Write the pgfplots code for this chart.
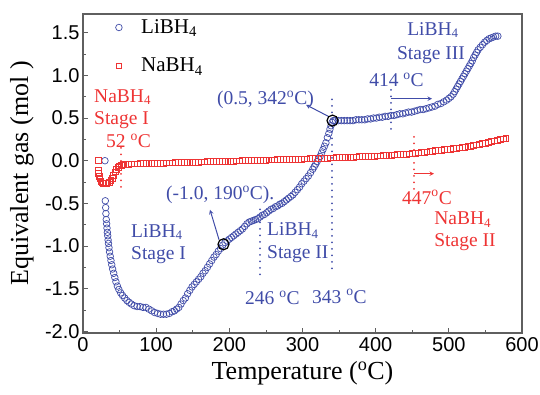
\documentclass[border=0pt]{standalone}
\usepackage{pgfplots}
\pgfplotsset{compat=1.18}
\usepackage{fontspec}
\setmainfont{Liberation Serif}
\newfontfamily\tickfont{Liberation Sans}
\definecolor{bl}{RGB}{64,76,168}
\definecolor{rd}{RGB}{238,52,52}
\definecolor{fr}{RGB}{95,95,95}
\newcommand{\ann}{\fontsize{19.5}{22}\selectfont}
\newcommand{\sub}[1]{\raisebox{-0.25ex}{\fontsize{13}{14}\selectfont #1}}
\begin{document}
\begin{tikzpicture}
\useasboundingbox (0,0) rectangle (540pt,394pt);
\begin{axis}[
  at={(83pt,61pt)}, anchor=south west,
  scale only axis, width=439pt, height=319pt,
  xmin=0, xmax=600, ymin=-2.02, ymax=1.72,
  xtick={0,100,...,600}, minor x tick num=1,
  ytick={-2,-1.5,-1,-0.5,0,0.5,1,1.5}, minor y tick num=1,
  xtick pos=bottom, ytick pos=left,
  tick align=inside,
  major tick length=5pt, minor tick length=3pt,
  axis line style={fr, line width=1.2pt},
  every tick/.style={fr, line width=0.8pt},
  tick label style={font=\tickfont\fontsize{20}{22}\selectfont},
  /pgf/number format/assume math mode=true,
  yticklabel style={/pgf/number format/.cd, fixed, fixed zerofill, precision=1},
  xticklabel style={yshift=-1pt},
  xlabel={Temperature (\textsuperscript{o}C)},
  ylabel={Equivalent gas (mol )},
  xlabel style={font=\fontsize{26}{28}\selectfont, at={([yshift=-40pt]axis description cs:0.5,0)}, anchor=center},
  ylabel style={font=\fontsize{26}{28}\selectfont, at={([xshift=-61pt]axis description cs:0,0.5)}, anchor=center},
  legend style={draw=none, fill=none, at={(axis description cs:0.067,0.995)}, anchor=north west,
    font=\fontsize{21}{24}\selectfont, row sep=19pt,
    /tikz/every odd column/.append style={column sep=17pt}},
  legend cell align=left,
  clip=false,
]
\addplot[only marks, mark=o, mark size=3.3pt, bl, line width=0.7pt] coordinates {
(30,0.00) (30.5,-0.47) (31,-0.55) (31.3,-0.62) (31.8,-0.69) (32.3,-0.74) (32.8,-0.79) (33.3,-0.84)
(33.8,-0.88) (34.3,-0.93) (34.8,-0.97) (35.5,-1.02) (36.3,-1.07) (37.2,-1.12) (38.2,-1.17) (39.3,-1.22)
(40.5,-1.27) (42,-1.32) (43.5,-1.37) (45,-1.42) (47,-1.47) (49,-1.51) (51.5,-1.55) (54,-1.58)
(57,-1.61) (60,-1.64) (63,-1.66) (66,-1.68) (70,-1.70) (74,-1.71) (78,-1.71) (82,-1.72)
(86,-1.72) (90,-1.74) (94,-1.76) (98,-1.78) (102,-1.79) (106,-1.80) (110,-1.80) (114,-1.80)
(118,-1.79) (122,-1.77) (125,-1.76) (128,-1.74) (131,-1.72) (134,-1.68) (137,-1.64) (140,-1.61)
(143,-1.56) (146,-1.52) (149,-1.48) (152,-1.45) (155,-1.42) (158,-1.39) (161,-1.36) (164,-1.32)
(167,-1.29) (170,-1.25) (173,-1.21) (176,-1.17) (179,-1.13) (182,-1.10) (185,-1.06) (188,-1.03)
(191,-0.99) (194,-0.96) (197,-0.94) (200,-0.92) (203,-0.90) (206,-0.88) (209,-0.86) (212,-0.84)
(215,-0.82) (218,-0.80) (221,-0.77) (224,-0.74) (227,-0.72) (230,-0.71) (233,-0.70) (236,-0.69)
(239,-0.68) (242,-0.66) (245,-0.64) (248,-0.63) (251,-0.61) (254,-0.59) (257,-0.57) (260,-0.56)
(263,-0.54) (266,-0.53) (269,-0.51) (272,-0.50) (275,-0.48) (278,-0.46) (281,-0.44) (284,-0.42)
(287,-0.40) (290,-0.37) (293,-0.34) (296,-0.31) (299,-0.27) (302,-0.24) (305,-0.21) (308,-0.18)
(311,-0.14) (314,-0.10) (316,-0.07) (318,-0.04) (320,-0.01) (322,0.02) (324,0.05) (326,0.09)
(328,0.13) (330,0.17) (332,0.21) (334,0.27) (336,0.32) (337.5,0.37) (339,0.41) (340.5,0.45)
(342,0.47) (345,0.47) (349,0.47) (353,0.47) (357,0.47) (361,0.47) (365,0.47) (369,0.47)
(373,0.48) (377,0.48) (381,0.48) (385,0.48) (389,0.49) (393,0.49) (397,0.50) (401,0.50)
(405,0.51) (409,0.51) (413,0.52) (417,0.52) (421,0.53) (425,0.53) (429,0.54) (433,0.55)
(437,0.55) (441,0.56) (445,0.57) (449,0.57) (453,0.58) (457,0.59) (461,0.60) (465,0.60)
(469,0.61) (473,0.62) (477,0.63) (481,0.64) (485,0.66) (489,0.67) (493,0.69) (497,0.71)
(500,0.73) (503,0.75) (506,0.78) (508,0.81) (510,0.84) (512,0.87) (514,0.90) (516,0.93)
(518,0.96) (520,0.99) (522,1.02) (524,1.05) (526,1.08) (528,1.11) (530,1.14) (532,1.17)
(534,1.21) (536,1.24) (538,1.27) (540,1.30) (543,1.33) (546,1.36) (549,1.39) (552,1.41)
(555,1.43) (558,1.44) (561,1.45) (564,1.46) (567,1.46)
};
\addlegendentry{LiBH\textsubscript{4}}
\addplot[only marks, mark=square, mark size=2.9pt, rd, line width=0.7pt] coordinates {
(21,0.00) (21,-0.11) (21.5,-0.15) (22,-0.18) (23,-0.21) (24.5,-0.24) (26,-0.26) (28,-0.27)
(30,-0.27) (32,-0.27) (34,-0.26) (36,-0.25) (38,-0.23) (40,-0.21) (42,-0.17) (44,-0.13)
(46,-0.10) (48,-0.08) (50,-0.06) (52,-0.05) (55,-0.045)
(58,-0.040) (62,-0.039) (66,-0.038) (70,-0.037) (74,-0.036) (78,-0.035) (82,-0.034) (86,-0.033)
(90,-0.032) (94,-0.031) (98,-0.030) (102,-0.029) (106,-0.028) (110,-0.027) (114,-0.026) (118,-0.025)
(122,-0.024) (126,-0.023) (130,-0.022) (134,-0.021) (138,-0.020) (142,-0.019) (146,-0.018) (150,-0.017)
(154,-0.016) (158,-0.015) (162,-0.014) (166,-0.013) (170,-0.012) (174,-0.011) (178,-0.010) (182,-0.009)
(186,-0.008) (190,-0.007) (194,-0.006) (198,-0.005) (202,-0.004) (206,-0.003) (210,-0.002) (214,-0.001)
(218,0.000) (222,0.001) (226,0.002) (230,0.003) (234,0.004) (238,0.005) (242,0.006) (246,0.007)
(250,0.008) (254,0.009) (258,0.010) (262,0.011) (266,0.012) (270,0.013) (274,0.014) (278,0.015)
(282,0.016) (286,0.017) (290,0.018) (294,0.019) (298,0.020) (302,0.021) (306,0.022) (310,0.024)
(314,0.025) (318,0.026) (322,0.028) (326,0.029) (330,0.030) (334,0.032) (338,0.033) (342,0.034)
(346,0.036) (350,0.037) (354,0.039) (358,0.040) (362,0.041) (366,0.043) (370,0.044) (374,0.046)
(378,0.047) (382,0.049) (386,0.050) (390,0.052) (394,0.053) (398,0.055) (402,0.057) (406,0.058)
(410,0.060) (414,0.062) (418,0.064) (422,0.066) (426,0.068) (430,0.070) (434,0.072) (438,0.075)
(442,0.078) (446,0.081) (450,0.085) (454,0.089) (458,0.093) (462,0.097) (466,0.101) (470,0.105)
(474,0.109) (478,0.113) (482,0.117) (486,0.121) (490,0.125) (494,0.129) (498,0.133) (502,0.137)
(506,0.141) (510,0.146) (514,0.151) (518,0.156) (522,0.161) (526,0.166) (530,0.172) (534,0.178)
(538,0.185) (542,0.192) (546,0.200) (550,0.208) (554,0.216) (558,0.224) (562,0.232) (566,0.240)
(570,0.248) (574,0.256) (578,0.262)
};
\addlegendentry{NaBH\textsubscript{4}}
% highlighted points
\addplot[only marks, mark=o, mark size=5.5pt, black, line width=1.2pt, forget plot] coordinates {(192,-0.98) (341,0.47)};
% dotted markers
\addplot[rd, line width=2pt, line cap=round, dash pattern=on 0pt off 6.5pt, forget plot] coordinates {(52,0.15) (52,-0.36)};
\addplot[rd, line width=2pt, line cap=round, dash pattern=on 0pt off 6.5pt, forget plot] coordinates {(452.4,0.28) (452.4,-0.34)};
\addplot[bl, line width=2pt, line cap=round, dash pattern=on 0pt off 6.5pt, forget plot] coordinates {(242,-0.57) (242,-1.37)};
\addplot[bl, line width=2pt, line cap=round, dash pattern=on 0pt off 6.5pt, forget plot] coordinates {(340.3,0.72) (340.3,-1.30)};
\addplot[bl, line width=2pt, line cap=round, dash pattern=on 0pt off 6.5pt, forget plot] coordinates {(421,0.83) (421,0.36)};
% arrows
\draw[bl, line width=1pt, -stealth] (axis cs:185.9,-0.926) -- (axis cs:173.6,-0.575);
\draw[bl, line width=1pt, -stealth] (axis cs:336.2,0.516) -- (axis cs:304.8,0.656);
\draw[bl, line width=1pt, -stealth] (axis cs:421,0.727) -- (axis cs:477,0.727);
\draw[rd, line width=1pt, -stealth] (axis cs:452.4,-0.152) -- (axis cs:479.7,-0.152);
% annotations
\begin{scope}[every node/.style={anchor=west, inner sep=0pt, font=\ann}]
\node[rd] at (axis cs:15,0.75) {NaBH\sub{4}};
\node[rd] at (axis cs:15,0.48) {Stage I};
\node[rd] at (axis cs:31.4,0.235) {52 \textsuperscript{o}C};
\node[bl] at (axis cs:113.4,-0.40) {(-1.0, 190\textsuperscript{o}C).};
\node[bl] at (axis cs:65.6,-0.84) {LiBH\sub{4}};
\node[bl] at (axis cs:65.6,-1.11) {Stage I};
\node[bl] at (axis cs:251.5,-0.82) {LiBH\sub{4}};
\node[bl] at (axis cs:251.5,-1.10) {Stage II};
\node[bl] at (axis cs:221.4,-1.61) {246 \textsuperscript{o}C};
\node[bl] at (axis cs:313,-1.59) {343 \textsuperscript{o}C};
\node[bl] at (axis cs:183,0.715) {(0.5, 342\textsuperscript{o}C)};
\node[bl] at (axis cs:443,1.535) {LiBH\sub{4}};
\node[bl] at (axis cs:429,1.24) {Stage III};
\node[bl] at (axis cs:391,0.95) {414 \textsuperscript{o}C};
\node[rd] at (axis cs:436,-0.43) {447\textsuperscript{o}C};
\node[rd] at (axis cs:480,-0.69) {NaBH\sub{4}};
\node[rd] at (axis cs:480,-0.96) {Stage II};
\end{scope}
\end{axis}
\end{tikzpicture}
\end{document}
